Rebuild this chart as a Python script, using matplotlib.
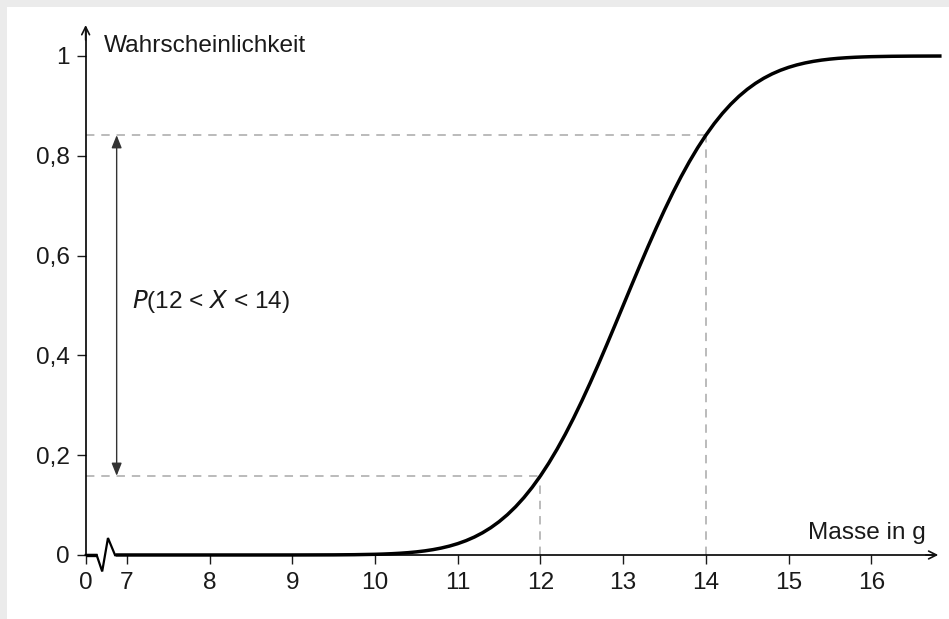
import matplotlib
matplotlib.use("Agg")
import matplotlib.pyplot as plt
from matplotlib.patches import FancyArrowPatch

# ---- data (cumulative probability curve) ----
mass_g = [6.86, 7.0, 7.5, 8.0, 8.5, 9.0, 9.5, 9.75,
          10.0, 10.1, 10.2, 10.3, 10.4, 10.5, 10.6, 10.7, 10.8, 10.9,
          11.0, 11.1, 11.2, 11.3, 11.4, 11.5, 11.6, 11.7, 11.8, 11.9,
          12.0, 12.1, 12.2, 12.3, 12.4, 12.5, 12.6, 12.7, 12.8, 12.9,
          13.0, 13.1, 13.2, 13.3, 13.4, 13.5, 13.6, 13.7, 13.8, 13.9,
          14.0, 14.1, 14.2, 14.3, 14.4, 14.5, 14.6, 14.7, 14.8, 14.9,
          15.0, 15.1, 15.2, 15.3, 15.4, 15.5, 15.6, 15.7, 15.8, 15.9,
          16.0, 16.25, 16.5, 16.85]
probability = [0.0, 0.0, 0.0, 0.0, 0.0, 0.00003, 0.00023, 0.00058,
               0.00135, 0.00187, 0.00256, 0.00347, 0.00466, 0.00621, 0.00820, 0.01072, 0.01390, 0.01786,
               0.02275, 0.02872, 0.03593, 0.04457, 0.05480, 0.06681, 0.08076, 0.09680, 0.11507, 0.13567,
               0.15866, 0.18406, 0.21186, 0.24196, 0.27425, 0.30854, 0.34458, 0.38209, 0.42074, 0.46017,
               0.50000, 0.53983, 0.57926, 0.61791, 0.65542, 0.69146, 0.72575, 0.75804, 0.78814, 0.81594,
               0.84134, 0.86433, 0.88493, 0.90320, 0.91924, 0.93319, 0.94520, 0.95543, 0.96407, 0.97128,
               0.97725, 0.98214, 0.98610, 0.98928, 0.99180, 0.99379, 0.99534, 0.99653, 0.99744, 0.99813,
               0.99865, 0.99942, 0.99977, 0.99995]
x_ticks = [7, 8, 9, 10, 11, 12, 13, 14, 15, 16]
x_tick_labels = ["7", "8", "9", "10", "11", "12", "13", "14", "15", "16"]
y_ticks = [0, 0.2, 0.4, 0.6, 0.8, 1]
y_tick_labels = ["0", "0,2", "0,4", "0,6", "0,8", "1"]
interval = [12, 14]
p_lower = 0.15866
p_upper = 0.84134

x_origin = 6.5        # where the broken x-axis shows "0"
x_end = 16.81
y_end = 1.062

plt.rcParams['font.family'] = ['Liberation Sans', 'DejaVu Sans']

W, H = 949, 619
fig = plt.figure(figsize=(W / 100, H / 100), dpi=100)
fig.patch.set_facecolor("#ebebeb")
ax = fig.add_axes([7 / W, 0, (W - 7) / W, (H - 7) / H])
ax.set_facecolor("white")

ax.set_xlim(5.549, 16.94)
ax.set_ylim(-0.1283, 1.0982)

for s in ["top", "right"]:
    ax.spines[s].set_visible(False)
ax.spines["left"].set_position(("data", x_origin))
ax.spines["bottom"].set_position(("data", 0))
ax.spines["left"].set_bounds(0, y_end - 0.005)
ax.spines["bottom"].set_bounds(6.855, x_end - 0.05)
ax.spines["left"].set_linewidth(1.2)
ax.spines["bottom"].set_linewidth(1.2)

TXT = "#1a1a1a"
FS = 17.6

ax.set_xticks([x_origin] + x_ticks)
ax.set_xticklabels(["0"] + x_tick_labels)
ax.set_yticks(y_ticks)
ax.set_yticklabels(y_tick_labels)
ax.tick_params(axis="both", direction="out", length=6.5, width=1.0,
               labelsize=FS, colors=TXT)
ax.tick_params(axis="x", pad=6)
ax.tick_params(axis="y", pad=5)

# axis arrowheads
ax.annotate("", xy=(x_origin, y_end), xytext=(x_origin, y_end - 0.03),
            arrowprops=dict(arrowstyle="->", lw=1.2, color="#111111",
                            mutation_scale=14, shrinkA=0, shrinkB=0))
ax.annotate("", xy=(x_end, 0), xytext=(x_end - 0.15, 0),
            arrowprops=dict(arrowstyle="->", lw=1.2, color="#111111",
                            mutation_scale=14, shrinkA=0, shrinkB=0))

# axis break (zigzag)
ax.plot([x_origin, 6.633, 6.70, 6.77, 6.855], [0, 0, -0.033, 0.034, 0],
        color="black", lw=1.6, solid_joinstyle="miter", zorder=4)
ax.plot([x_origin, 6.633], [0, 0], color="black", lw=2.4, zorder=4,
        solid_capstyle="butt")

# dashed helper lines
dash_kw = dict(color="#a8a8a8", lw=1.1, dashes=(5.5, 4.5), zorder=2)
ax.plot([x_origin, interval[1]], [p_upper, p_upper], **dash_kw)
ax.plot([interval[1], interval[1]], [0, p_upper], **dash_kw)
ax.plot([x_origin, interval[0]], [p_lower, p_lower], **dash_kw)
ax.plot([interval[0], interval[0]], [0, p_lower], **dash_kw)

# curve
ax.plot(mass_g, probability, color="black", lw=2.5, zorder=5,
        solid_capstyle="butt", solid_joinstyle="round")

# double arrow
arr = FancyArrowPatch((6.875, p_lower), (6.875, p_upper),
                      arrowstyle="<|-|>,head_length=0.55,head_width=0.22",
                      mutation_scale=14, lw=1.0, color="#333333",
                      shrinkA=0, shrinkB=0, zorder=3)
ax.add_patch(arr)

# texts
ax.text(7.06, 0.507, r"$\mathit{P}$(12 < $\mathit{X}$ < 14)", fontsize=FS,
        ha="left", va="center", color=TXT)
ax.text(6.72, 1.02, "Wahrscheinlichkeit", fontsize=FS, ha="left",
        va="center", color=TXT)
ax.text(16.66, 0.045, "Masse in g", fontsize=FS, ha="right", va="center",
        color=TXT)

fig.savefig("out.png", dpi=100, facecolor=fig.get_facecolor())
